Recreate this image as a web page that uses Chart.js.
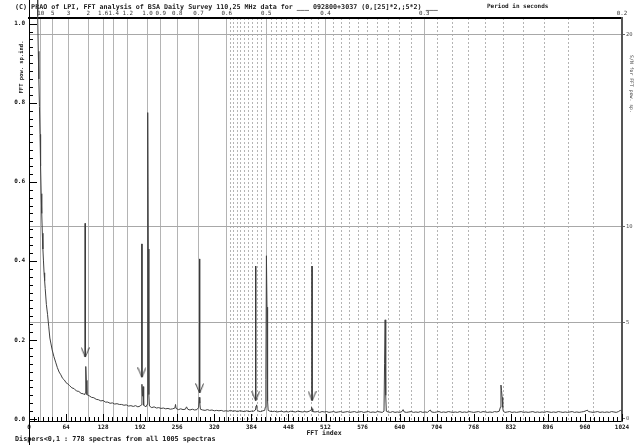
<!DOCTYPE html>
<html lang="en">
<head>
<meta charset="UTF-8">
<title>FFT analysis, BSA Daily Survey 110,25 MHz</title>
<style>
  body { margin: 0; background: #fff; }
  canvas { display: block; }
</style>
<script src="https://cdn.jsdelivr.net/npm/chart.js"></script>
</head>
<body>
<canvas id="fftChart" width="637" height="445"></canvas>
<script>
const MONO = '"DejaVu Sans Mono", "Liberation Mono", monospace';

// 1024 FFT bins cover 0..5 Hz, so bin = 204.8 / period
const BINS_PER_HZ = 204.8;
const periodToIndex = p => BINS_PER_HZ / p;

// bottom axis
const indexTicks = [0, 64, 128, 192, 256, 320, 384, 448, 512, 576, 640, 704, 768, 832, 896, 960, 1024];
// top axis, periods in seconds (solid lines)
const periodMarks  = [10, 5, 3, 2, 1.6, 1.4, 1.2, 1.0, 0.9, 0.8, 0.7, 0.6, 0.5, 0.4, 0.3, 0.2];
const periodLabels = ['10', '5', '3', '2', '1.6', '1.4', '1.2', '1.0', '0.9', '0.8', '0.7', '0.6', '0.5', '0.4', '0.3', '0.2'];
// fine period grid (dotted lines)
const periodFine = [
  0.59, 0.58, 0.57, 0.56, 0.55, 0.54, 0.53, 0.52, 0.51,
  0.49, 0.48, 0.47, 0.46, 0.45, 0.44, 0.43, 0.42, 0.41,
  0.39, 0.38, 0.37, 0.36, 0.35, 0.34, 0.33, 0.32, 0.31,
  0.29, 0.28, 0.27, 0.26, 0.25, 0.24, 0.23, 0.22, 0.21
];
const powerTicks = [0, 0.2, 0.4, 0.6, 0.8, 1.0];
const snrTicks = [0, 5, 10, 20];

// averaged FFT power spectrum (bin index / power)
const fftIndex = [
  14, 15, 16, 17, 18, 19, 20, 21, 22, 23,
  24, 25, 26, 27, 28, 30, 32, 34, 36, 38,
  40, 43, 46, 49, 52, 55, 58, 61, 64, 67,
  70, 74, 78, 82, 86, 90, 94, 96, 97, 98,
  99, 100, 104, 108, 112, 116, 120, 124, 128, 132,
  136, 140, 144, 148, 152, 156, 160, 164, 168, 172,
  176, 180, 184, 188, 192, 194, 195, 196, 197, 198,
  202, 204, 205, 206, 207, 208, 212, 216, 220, 224,
  228, 232, 236, 240, 244, 248, 252, 253, 254, 258,
  262, 266, 270, 272, 274, 278, 282, 286, 290, 293,
  294, 295, 296, 300, 304, 308, 312, 316, 320, 324,
  328, 332, 336, 340, 344, 348, 352, 356, 360, 364,
  368, 372, 376, 380, 384, 388, 391, 392, 393, 394,
  396, 400, 404, 407, 408, 409, 410, 411, 412, 413,
  416, 420, 424, 428, 432, 436, 440, 444, 448, 452,
  456, 460, 464, 468, 472, 476, 480, 484, 487, 488,
  489, 490, 494, 498, 502, 506, 510, 514, 518, 522,
  526, 530, 534, 538, 542, 546, 550, 554, 558, 562,
  566, 570, 574, 578, 582, 586, 590, 594, 598, 602,
  606, 610, 613, 614, 615, 616, 617, 620, 624, 628,
  632, 636, 640, 644, 646, 648, 652, 656, 660, 664,
  668, 672, 676, 680, 684, 688, 691, 693, 695, 700,
  704, 708, 712, 716, 720, 724, 728, 732, 736, 740,
  744, 748, 752, 756, 760, 764, 768, 772, 776, 780,
  784, 788, 792, 796, 800, 804, 808, 812, 814, 815,
  816, 817, 818, 819, 822, 826, 830, 834, 838, 842,
  846, 850, 854, 858, 862, 866, 870, 874, 878, 882,
  886, 890, 894, 898, 902, 906, 910, 914, 918, 922,
  926, 930, 934, 938, 942, 946, 950, 954, 958, 962,
  964, 966, 970, 974, 978, 982, 986, 990, 994, 998,
  1002, 1006, 1010, 1014, 1018, 1021, 1024
];
const fftPower = [
  1.40, 1.02, 0.93, 0.86, 0.79, 0.72, 0.64, 0.57, 0.52, 0.47,
  0.43, 0.40, 0.37, 0.35, 0.33, 0.29, 0.265, 0.235, 0.205, 0.19,
  0.175, 0.158, 0.144, 0.130, 0.119, 0.112, 0.103, 0.099, 0.092, 0.089,
  0.085, 0.079, 0.077, 0.071, 0.070, 0.065, 0.064, 0.061, 0.066, 0.133,
  0.098, 0.062, 0.059, 0.055, 0.054, 0.050, 0.049, 0.046, 0.047, 0.043,
  0.043, 0.040, 0.041, 0.038, 0.039, 0.037, 0.037, 0.035, 0.036, 0.033,
  0.034, 0.032, 0.034, 0.031, 0.033, 0.036, 0.088, 0.058, 0.082, 0.035,
  0.031, 0.037, 0.775, 0.430, 0.062, 0.033, 0.029, 0.031, 0.028, 0.029,
  0.027, 0.028, 0.026, 0.027, 0.025, 0.026, 0.028, 0.037, 0.027, 0.024,
  0.026, 0.024, 0.025, 0.031, 0.025, 0.023, 0.025, 0.023, 0.024, 0.030,
  0.055, 0.040, 0.025, 0.023, 0.022, 0.024, 0.022, 0.023, 0.021, 0.022,
  0.021, 0.022, 0.020, 0.021, 0.020, 0.022, 0.020, 0.021, 0.019, 0.021,
  0.020, 0.019, 0.021, 0.019, 0.020, 0.020, 0.023, 0.033, 0.036, 0.024,
  0.020, 0.019, 0.021, 0.022, 0.030, 0.100, 0.413, 0.283, 0.045, 0.022,
  0.020, 0.019, 0.020, 0.018, 0.019, 0.020, 0.018, 0.019, 0.018, 0.020,
  0.019, 0.018, 0.020, 0.019, 0.018, 0.019, 0.018, 0.020, 0.023, 0.030,
  0.026, 0.019, 0.018, 0.019, 0.017, 0.019, 0.018, 0.019, 0.017, 0.018,
  0.019, 0.017, 0.018, 0.019, 0.017, 0.018, 0.019, 0.017, 0.018, 0.019,
  0.017, 0.018, 0.019, 0.017, 0.018, 0.019, 0.017, 0.018, 0.017, 0.019,
  0.018, 0.017, 0.020, 0.140, 0.251, 0.060, 0.020, 0.018, 0.017, 0.019,
  0.017, 0.018, 0.017, 0.019, 0.024, 0.018, 0.017, 0.018, 0.019, 0.017,
  0.018, 0.017, 0.019, 0.017, 0.018, 0.017, 0.021, 0.023, 0.018, 0.017,
  0.018, 0.019, 0.017, 0.018, 0.017, 0.019, 0.018, 0.017, 0.018, 0.017,
  0.019, 0.017, 0.018, 0.017, 0.019, 0.018, 0.017, 0.018, 0.019, 0.017,
  0.019, 0.018, 0.017, 0.018, 0.017, 0.019, 0.018, 0.020, 0.030, 0.086,
  0.072, 0.055, 0.030, 0.020, 0.017, 0.018, 0.019, 0.017, 0.018, 0.017,
  0.018, 0.019, 0.017, 0.018, 0.017, 0.018, 0.019, 0.017, 0.018, 0.017,
  0.018, 0.017, 0.019, 0.018, 0.017, 0.018, 0.017, 0.019, 0.018, 0.017,
  0.018, 0.017, 0.018, 0.019, 0.017, 0.018, 0.017, 0.018, 0.019, 0.021,
  0.023, 0.019, 0.018, 0.017, 0.018, 0.019, 0.017, 0.018, 0.017, 0.018,
  0.017, 0.019, 0.018, 0.017, 0.019, 0.022, 0.020
];

// marked candidates: arrow shaft from top down to the tip
const arrowIndex = [97.1, 195.0, 294.7, 391.5, 488.8];
const arrowTop   = [0.495, 0.443, 0.405, 0.387, 0.387];
const arrowTip   = [0.157, 0.106, 0.066, 0.047, 0.047];

// downward "V" head, tip sits at the canvas centre
const arrowHead = document.createElement('canvas');
arrowHead.width = 9;
arrowHead.height = 20;
(function () {
  const c = arrowHead.getContext('2d');
  c.strokeStyle = '#3a3a3a';
  c.lineWidth = 1;
  c.beginPath();
  c.moveTo(0.5, 0.5);
  c.lineTo(4.5, 10);
  c.lineTo(8.5, 0.5);
  c.stroke();
})();

const arrowSets = arrowIndex.map((ix, i) => ({
  data: [{ x: ix, y: arrowTop[i] }, { x: ix, y: arrowTip[i] }],
  borderColor: '#3a3a3a',
  borderWidth: 1,
  pointStyle: arrowHead,
  pointRadius: ctx => ctx.dataIndex === 1 ? 4 : 0,
  pointHoverRadius: 0
}));

// inward tick marks and the left rule running full height
const frameTicks = {
  id: 'frameTicks',
  afterDraw(chart) {
    const { ctx, chartArea: a, scales: { x, y } } = chart;
    ctx.save();
    ctx.strokeStyle = '#000';
    ctx.lineWidth = 1;
    ctx.beginPath();
    for (let v = 0; v <= 1024; v += 8) {
      const px = Math.round(x.getPixelForValue(v)) + 0.5;
      const len = v % 64 === 0 ? 7 : 4;
      ctx.moveTo(px, a.bottom);
      ctx.lineTo(px, a.bottom - len);
    }
    for (let i = 0; i <= 50; i++) {
      const py = Math.round(y.getPixelForValue(i * 0.02)) + 0.5;
      const len = i % 10 === 0 ? 8 : 4;
      ctx.moveTo(a.left, py);
      ctx.lineTo(a.left + len, py);
    }
    const lx = Math.round(a.left) + 0.5;
    ctx.moveTo(lx, 0);
    ctx.lineTo(lx, chart.height);
    ctx.stroke();
    ctx.restore();
  }
};

// header, footer and axis captions
const captions = {
  id: 'captions',
  beforeDatasetsDraw(chart) {
    const { ctx } = chart;
    ctx.save();
    ctx.fillStyle = '#1a1a1a';
    ctx.textBaseline = 'middle';
    ctx.textAlign = 'left';
    ctx.font = 'bold 6.7px ' + MONO;
    ctx.fillText('(C) PRAO of LPI, FFT analysis of BSA Daily Survey 110,25 MHz data for ___ 092800+3037 (0,[25]*2,;5*2) ___', 15, 7.5);
    ctx.font = 'bold 6.8px ' + MONO;
    ctx.fillText('Dispers<0,1 : 778 spectras from all 1005 spectras', 15, 439.5);
    ctx.font = 'bold 6px ' + MONO;
    ctx.fillText('Period in seconds', 487, 6.5);
    ctx.textAlign = 'center';
    ctx.font = 'bold 6.5px ' + MONO;
    ctx.fillText('FFT index', 324, 433.5);

    ctx.font = 'bold 5.5px ' + MONO;
    ctx.translate(21.5, 67);
    ctx.rotate(-Math.PI / 2);
    ctx.fillText('FFT pow. sp.ind.', 0, 0);
    ctx.setTransform(1, 0, 0, 1, 0, 0);

    ctx.fillStyle = '#444';
    ctx.font = '4.8px ' + MONO;
    ctx.translate(631, 84);
    ctx.rotate(Math.PI / 2);
    ctx.fillText('S/N for FFT pow. sp.', 0, 0);
    ctx.restore();
  }
};

Chart.defaults.font.family = MONO;

new Chart(document.getElementById('fftChart'), {
  type: 'line',
  data: {
    datasets: [
      {
        data: fftIndex.map((ix, i) => ({ x: ix, y: fftPower[i] })),
        borderColor: '#404040',
        borderWidth: 1,
        pointRadius: 0,
        tension: 0,
        clip: false
      },
      ...arrowSets
    ]
  },
  options: {
    responsive: false,
    animation: false,
    events: [],
    layout: { padding: 0 },
    plugins: { legend: { display: false }, tooltip: { enabled: false } },
    scales: {
      x: {
        type: 'linear',
        position: 'bottom',
        min: 0,
        max: 1024,
        afterBuildTicks: s => { s.ticks = indexTicks.map(v => ({ value: v })); },
        afterFit: s => { s.height = 24; },
        grid: { drawOnChartArea: false, drawTicks: false },
        border: { color: '#000', width: 1 },
        ticks: {
          autoSkip: false, maxRotation: 0, minRotation: 0, padding: 3,
          color: '#111', font: { size: 6, weight: 'bold' },
          callback: v => String(v)
        }
      },
      xPeriod: {
        type: 'linear',
        position: 'top',
        min: 0,
        max: 1024,
        afterBuildTicks: s => { s.ticks = periodMarks.map(p => ({ value: periodToIndex(p) })); },
        afterFit: s => { s.height = 18; },
        grid: { color: '#b4b4b4', lineWidth: 1, drawTicks: false },
        border: { color: '#000', width: 2 },
        ticks: {
          autoSkip: false, maxRotation: 0, minRotation: 0, padding: 1.5,
          color: '#333', font: { size: 5.8 },
          callback: (v, i) => periodLabels[i]
        }
      },
      xFine: {
        type: 'linear',
        position: 'top',
        min: 0,
        max: 1024,
        afterBuildTicks: s => { s.ticks = periodFine.map(p => ({ value: periodToIndex(p) })); },
        afterFit: s => { s.height = 0; },
        grid: { color: '#b4b4b4', lineWidth: 1, drawTicks: false },
        border: { display: false, dash: [2, 2] },
        ticks: { display: false }
      },
      y: {
        position: 'left',
        min: -0.0048,
        max: 1.0142,
        afterBuildTicks: s => { s.ticks = powerTicks.map(v => ({ value: v })); },
        afterFit: s => { s.width = 29; },
        grid: { drawOnChartArea: false, drawTicks: false },
        border: { color: '#000', width: 1 },
        ticks: {
          padding: 4, color: '#111', font: { size: 6, weight: 'bold' },
          callback: v => v.toFixed(1)
        }
      },
      ySn: {
        position: 'right',
        min: -0.104,
        max: 20.84,
        afterBuildTicks: s => { s.ticks = snrTicks.map(v => ({ value: v })); },
        afterFit: s => { s.width = 15; },
        grid: {
          color: c => c.tick && c.tick.value === 0 ? 'rgba(0,0,0,0)' : '#a8a8a8',
          tickColor: '#666',
          tickLength: 3,
          lineWidth: 1
        },
        border: { color: '#555', width: 2 },
        ticks: { padding: 1, color: '#555', font: { size: 5.5 } }
      }
    }
  },
  plugins: [captions, frameTicks]
});
</script>
</body>
</html>
